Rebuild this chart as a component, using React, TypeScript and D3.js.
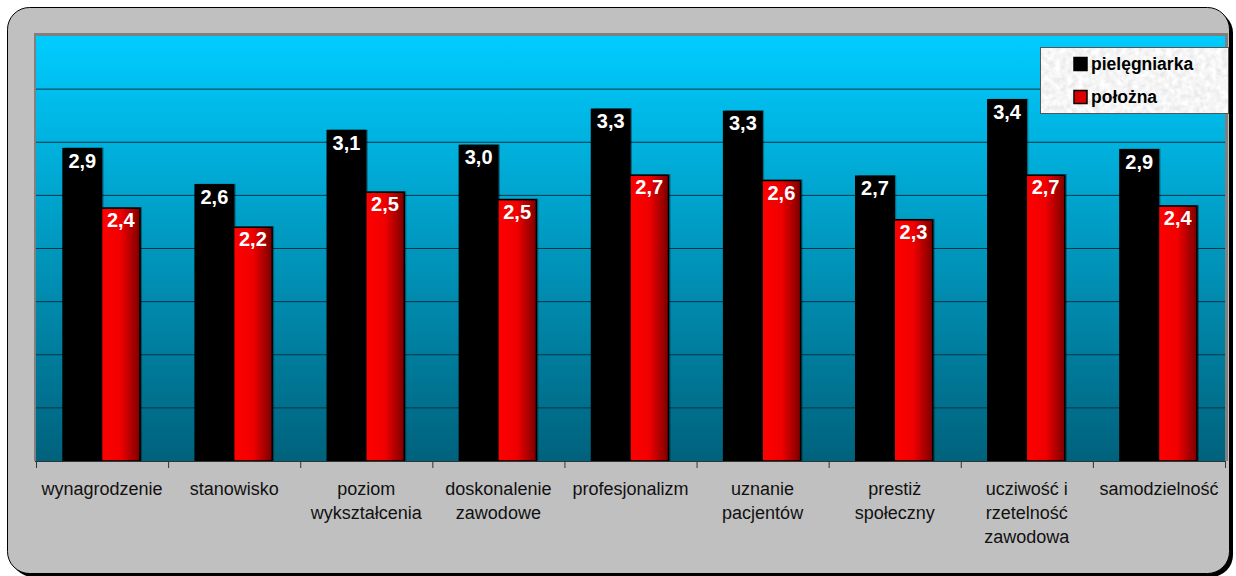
import React from 'react';
import * as d3 from 'd3';

const categories = [
  'wynagrodzenie',
  'stanowisko',
  'poziom\nwykształcenia',
  'doskonalenie\nzawodowe',
  'profesjonalizm',
  'uznanie\npacjentów',
  'prestiż\nspołeczny',
  'ucziwość i\nrzetelność\nzawodowa',
  'samodzielność',
];
const seriesNames = ['pielęgniarka', 'położna'];
const nurse = [2.94, 2.6, 3.11, 2.97, 3.31, 3.29, 2.68, 3.4, 2.93];
const midwife = [2.38, 2.2, 2.53, 2.46, 2.69, 2.64, 2.27, 2.69, 2.4];
const yTicks = [0, 0.5, 1, 1.5, 2, 2.5, 3, 3.5, 4];

const W = 1236;
const H = 576;
const plot = { left: 36, right: 1225, top: 36, bottom: 461 };
const font = '"Liberation Sans", Arial, sans-serif';

const fmt = (v: number) => d3.format('.1f')(v).replace('.', ',');

const App: React.FC = () => {
  const x = d3.scaleBand<string>()
    .domain(categories)
    .range([plot.left, plot.right])
    .padding(0);
  const bw = x.bandwidth();
  const x1 = d3.scaleBand<string>()
    .domain(seriesNames)
    .range([bw / 2 - 39, bw / 2 + 38])
    .padding(0);
  const y = d3.scaleLinear().domain([0, 4]).range([plot.bottom, plot.top]);
  const series = [nurse, midwife];

  return (
    <svg width={W} height={H} style={{ position: 'absolute', left: 0, top: 0 }} fontFamily={font}>
      <defs>
        <linearGradient id="bg" x1="0" y1="0" x2="0" y2="1">
          <stop offset="0" stopColor="#00ccff" />
          <stop offset="1" stopColor="#00627c" />
        </linearGradient>
        <linearGradient id="red" x1="0" y1="0" x2="1" y2="0">
          <stop offset="0" stopColor="#ff0000" />
          <stop offset="0.5" stopColor="#f00000" />
          <stop offset="1" stopColor="#7a0000" />
        </linearGradient>
        <filter id="marble" x="0" y="0" width="100%" height="100%">
          <feTurbulence type="fractalNoise" baseFrequency="0.18" numOctaves="3" seed="4" result="n" />
          <feColorMatrix in="n" type="matrix"
            values="0.35 0 0 0 0.74  0.35 0 0 0 0.74  0.35 0 0 0 0.74  0 0 0 0 1" result="c" />
          <feComposite in="c" in2="SourceGraphic" operator="in" />
        </filter>
      </defs>

      {/* outer frame with shadow */}
      <rect x={11} y={11} width={1222} height={566} rx={22} fill="#000" />
      <rect x={7.5} y={7.5} width={1222} height={566} rx={22} fill="#c0c0c0" stroke="#000" strokeWidth={1} />

      {/* plot area */}
      <rect x={plot.left - 2} y={plot.top - 3} width={plot.right - plot.left + 5} height={plot.bottom - plot.top + 3} fill="#808080" />
      <rect x={plot.left} y={plot.top} width={plot.right - plot.left} height={plot.bottom - plot.top} fill="url(#bg)" />

      {yTicks.slice(1, -1).map(t => (
        <line key={t} x1={plot.left} x2={plot.right} y1={y(t)} y2={y(t)} stroke="#003546" strokeWidth={1} />
      ))}

      {/* bars */}
      {categories.map((c, i) => (
        <g key={c} transform={`translate(${x(c)},0)`}>
          {seriesNames.map((s, j) => {
            const v = series[j][i];
            const bx = x1(s)!;
            const bwid = x1.bandwidth();
            return (
              <g key={s}>
                <rect x={bx + 2} y={y(v) - 1} width={bwid} height={y(0) - y(v) + 1} fill="#000" opacity={0.35} />
                <rect x={bx} y={y(v)} width={bwid} height={y(0) - y(v)}
                  fill={j === 0 ? '#000' : 'url(#red)'} stroke="#000" strokeWidth={1.5} />
                <text x={bx + bwid / 2} y={y(v) + 19} textAnchor="middle" fill="#fff" fontWeight="bold" fontSize={20}>
                  {fmt(v)}
                </text>
              </g>
            );
          })}
        </g>
      ))}

      {/* x axis */}
      <line x1={plot.left - 1} x2={plot.right + 1} y1={plot.bottom + 0.5} y2={plot.bottom + 0.5} stroke="#333" strokeWidth={1} />
      {[...categories.map(c => x(c)!), plot.right].map((tx, i) => (
        <line key={i} x1={tx + 0.5} x2={tx + 0.5} y1={plot.bottom} y2={plot.bottom + 7} stroke="#333" strokeWidth={1} />
      ))}
      {categories.map(c => (
        <text key={c} x={x(c)! + bw / 2} y={495} textAnchor="middle" fontSize={18} fill="#111">
          {c.split('\n').map((ln, k) => (
            <tspan key={k} x={x(c)! + bw / 2} dy={k === 0 ? 0 : 24}>{ln}</tspan>
          ))}
        </text>
      ))}

      {/* legend */}
      <rect x={1040.5} y={47.5} width={188} height={66} fill="#eee" filter="url(#marble)" />
      <rect x={1040.5} y={47.5} width={188} height={66} fill="none" stroke="#555" strokeWidth={1} />
      {seriesNames.map((s, j) => (
        <g key={s} transform={`translate(0,${j * 33})`}>
          <rect x={1074} y={57.5} width={13} height={13} fill={j === 0 ? '#000' : '#dd0000'} stroke="#000" strokeWidth={1.5} />
          <text x={1091} y={70} fontSize={17.5} fontWeight="bold" fill="#000">{s}</text>
        </g>
      ))}
    </svg>
  );
};

export default App;
